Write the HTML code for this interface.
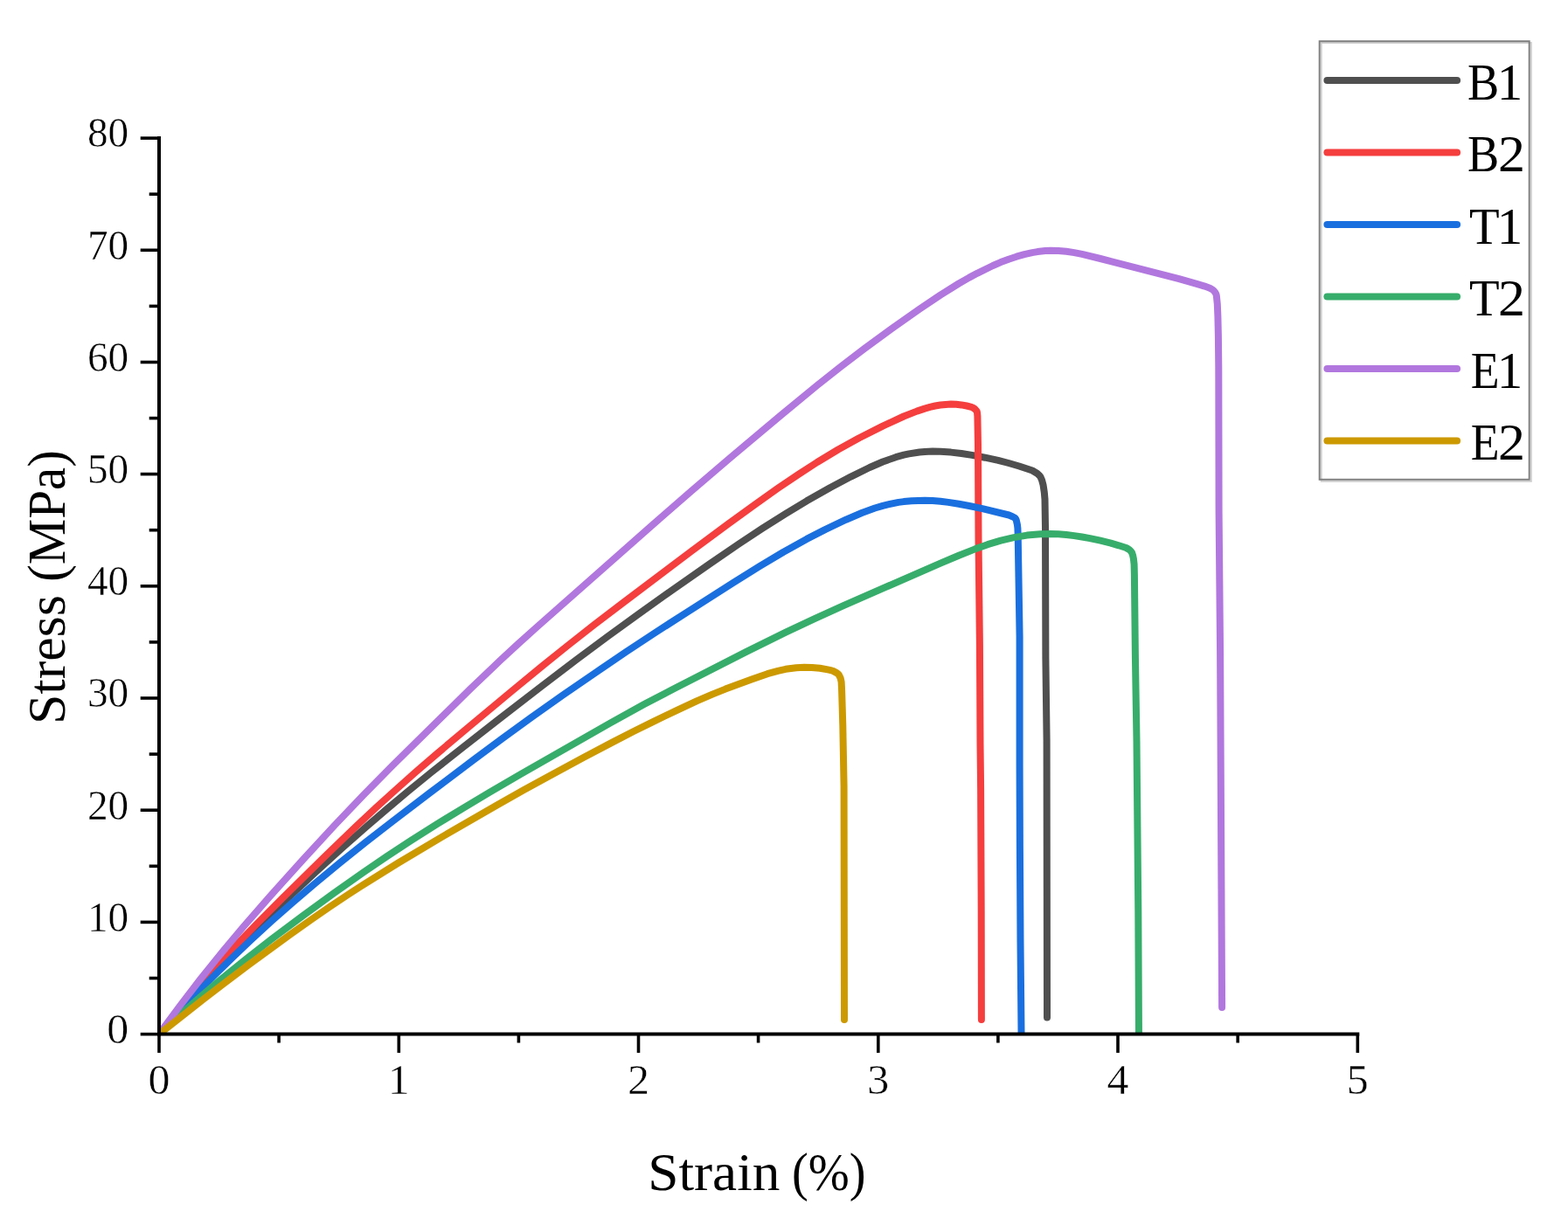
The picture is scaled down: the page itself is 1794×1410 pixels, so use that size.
<!DOCTYPE html>
<html lang="en">
<head>
<meta charset="utf-8">
<title>Stress-Strain Curves</title>
<style>
html,body{margin:0;padding:0;background:#fff;}
body{width:1794px;height:1410px;overflow:hidden;}
svg{display:block;}
text{font-family:"Liberation Serif","DejaVu Serif",serif;fill:#000;}
</style>
</head>
<body>
<svg width="1794" height="1410" viewBox="0 0 1794 1410">
<rect x="0" y="0" width="1794" height="1410" fill="#ffffff"/>
<defs><clipPath id="plot"><rect x="182" y="0" width="1500" height="1183.6"/></clipPath></defs>

<g clip-path="url(#plot)" fill="none" stroke-width="8" stroke-linecap="round" stroke-linejoin="round">
<path stroke="#4F4F4F" d="M182.0 1183.6L203.0 1159.0L227.0 1131.9L251.0 1106.0L275.0 1081.1L302.0 1054.2L329.0 1028.2L362.0 997.4L392.0 970.1L419.0 946.2L443.0 925.6L467.0 905.5L494.0 883.5L527.0 857.3L569.0 824.5L620.0 785.1L659.0 755.4L695.0 728.6L731.0 702.4L770.0 674.7L812.0 645.4L845.0 622.8L872.0 604.9L899.0 587.8L923.0 573.3L950.0 558.0L974.0 545.3L995.0 535.0L1010.0 528.5L1025.0 523.2L1034.0 520.7L1040.0 519.4L1052.0 517.5L1058.0 517.0L1067.0 516.6L1076.0 516.8L1088.0 517.6L1100.0 519.0L1112.0 520.9L1127.0 523.7L1142.0 526.9L1154.0 530.0L1166.0 533.5L1181.1 538.5L1186.5 541.7L1189.5 544.5L1190.5 545.9L1192.0 549.3L1193.6 555.3L1194.8 563.4L1195.5 571.4L1196.0 603.4L1196.4 753.4L1197.6 847.4L1198.0 1164.5"/>
<path stroke="#F53E3E" d="M182.0 1183.6L203.0 1157.6L224.0 1132.7L245.0 1108.9L269.0 1083.0L293.0 1058.2L323.0 1028.1L371.0 980.9L407.0 946.2L431.0 923.7L452.0 904.6L476.0 883.3L500.0 862.6L536.0 832.2L584.0 792.2L620.0 762.6L650.0 738.5L680.0 714.9L713.0 689.7L791.0 630.9L833.0 599.7L863.0 577.9L890.0 558.8L914.0 542.6L935.0 529.0L959.0 514.5L983.0 501.2L1010.0 487.6L1034.0 476.5L1049.0 470.6L1058.0 467.6L1064.0 465.9L1070.0 464.5L1076.0 463.5L1082.0 462.9L1088.0 462.6L1094.0 462.8L1100.0 463.4L1106.0 464.5L1111.4 465.8L1113.2 466.6L1115.1 467.9L1116.7 469.5L1117.8 471.1L1118.1 472.8L1118.4 476.3L1119.0 508.9L1119.5 616.9L1120.9 736.9L1121.5 850.9L1122.1 902.9L1122.7 1042.9L1122.9 1167.0"/>
<path stroke="#1A6FDF" d="M182.0 1183.6L203.0 1160.4L224.0 1138.0L245.0 1116.5L266.0 1095.8L287.0 1075.9L311.0 1053.9L335.0 1032.7L362.0 1009.7L389.0 987.4L419.0 963.4L449.0 940.1L491.0 908.0L542.0 869.5L575.0 845.0L608.0 821.0L644.0 795.6L683.0 768.7L716.0 746.3L749.0 724.5L785.0 701.3L839.0 666.9L869.0 648.2L896.0 632.0L923.0 616.9L944.0 606.1L968.0 594.7L986.0 587.0L1001.0 581.5L1010.0 578.8L1016.0 577.3L1028.0 574.9L1034.0 574.1L1043.0 573.2L1058.0 572.8L1067.0 573.1L1076.0 573.8L1085.0 574.9L1097.0 576.8L1109.0 579.0L1124.0 582.2L1154.3 589.5L1158.4 591.2L1160.3 592.2L1161.8 593.4L1162.5 594.7L1163.0 596.3L1163.9 600.3L1164.4 604.6L1164.7 612.7L1166.6 728.7L1166.6 876.7L1166.9 968.7L1167.5 1076.7L1168.6 1190.0"/>
<path stroke="#37AD6B" d="M182.0 1183.6L206.0 1161.4L230.0 1140.2L254.0 1119.9L281.0 1098.0L311.0 1074.7L347.0 1047.7L383.0 1021.5L416.0 998.3L443.0 979.9L470.0 962.2L500.0 943.2L530.0 924.8L560.0 906.9L596.0 885.9L698.0 827.6L737.0 806.1L773.0 787.2L854.0 745.9L899.0 723.7L932.0 708.1L965.0 693.1L1076.0 644.6L1097.0 635.7L1115.0 628.6L1130.0 623.2L1145.0 618.7L1160.0 615.1L1175.0 612.6L1190.0 611.2L1202.0 611.0L1211.0 611.3L1220.0 612.0L1229.0 613.1L1238.0 614.5L1247.0 616.1L1259.0 618.7L1271.0 621.7L1280.0 624.3L1288.6 627.0L1292.1 629.2L1293.7 630.7L1294.9 632.2L1296.1 635.6L1296.9 639.5L1297.6 645.8L1297.9 657.8L1298.9 749.8L1300.5 847.8L1302.3 1043.8L1303.0 1190.0"/>
<path stroke="#B177DE" d="M182.0 1183.6L206.0 1151.0L230.0 1119.7L254.0 1089.9L278.0 1061.2L308.0 1026.8L347.0 983.5L383.0 944.4L416.0 909.8L449.0 876.3L494.0 831.8L539.0 787.7L572.0 756.2L593.0 736.8L614.0 717.9L746.0 601.2L791.0 562.0L836.0 523.5L893.0 475.6L935.0 441.0L962.0 419.6L989.0 399.0L1019.0 377.1L1052.0 353.8L1076.0 337.6L1097.0 324.5L1109.0 317.6L1118.0 312.8L1136.0 304.0L1145.0 300.1L1154.0 296.7L1163.0 293.7L1172.0 291.1L1181.0 289.1L1187.0 288.1L1196.0 287.1L1202.0 286.8L1211.0 287.0L1220.0 287.8L1229.0 289.1L1238.0 290.9L1259.0 296.0L1349.0 319.1L1370.0 325.1L1378.3 327.6L1384.2 329.7L1387.5 331.6L1388.9 332.9L1390.2 334.5L1391.3 336.4L1391.8 338.2L1392.8 348.1L1393.4 362.2L1393.9 384.2L1394.3 420.2L1394.6 584.2L1396.1 748.2L1398.1 1153.0"/>
<path stroke="#CC9900" d="M182.0 1183.6L233.0 1143.3L284.0 1104.5L332.0 1069.4L356.0 1052.5L377.0 1038.0L398.0 1024.0L416.0 1012.3L455.0 988.0L506.0 957.6L569.0 921.2L599.0 904.3L632.0 886.2L668.0 866.8L701.0 849.4L725.0 837.0L746.0 826.6L773.0 813.6L797.0 802.4L815.0 794.6L830.0 788.6L860.0 777.5L878.0 771.2L890.0 767.8L899.0 765.8L911.0 764.2L920.0 763.7L929.0 763.9L938.0 764.8L947.0 766.4L951.6 767.4L953.5 768.1L957.3 770.1L958.9 771.4L960.0 772.7L961.7 776.3L962.6 780.3L963.1 790.3L964.3 830.3L965.6 900.3L966.0 1167.0"/>
</g>
<g stroke="#000" stroke-width="4" fill="none">
<path d="M182.0 156.1 V1185.6"/>
<path d="M180.0 1183.6 H1555.3"/>
<path stroke-width="3.6" d="M160.7 1183.6 H182.0"/>
<path stroke-width="3.6" d="M170.7 1119.5 H182.0"/>
<path stroke-width="3.6" d="M160.7 1055.4 H182.0"/>
<path stroke-width="3.6" d="M170.7 991.3 H182.0"/>
<path stroke-width="3.6" d="M160.7 927.2 H182.0"/>
<path stroke-width="3.6" d="M170.7 863.1 H182.0"/>
<path stroke-width="3.6" d="M160.7 799.0 H182.0"/>
<path stroke-width="3.6" d="M170.7 734.9 H182.0"/>
<path stroke-width="3.6" d="M160.7 670.8 H182.0"/>
<path stroke-width="3.6" d="M170.7 606.7 H182.0"/>
<path stroke-width="3.6" d="M160.7 542.6 H182.0"/>
<path stroke-width="3.6" d="M170.7 478.6 H182.0"/>
<path stroke-width="3.6" d="M160.7 414.5 H182.0"/>
<path stroke-width="3.6" d="M170.7 350.4 H182.0"/>
<path stroke-width="3.6" d="M160.7 286.3 H182.0"/>
<path stroke-width="3.6" d="M170.7 222.2 H182.0"/>
<path stroke-width="3.6" d="M160.7 158.1 H182.0"/>
<path stroke-width="3.6" d="M182.0 1183.6 V1204.9"/>
<path stroke-width="3.6" d="M319.1 1183.6 V1193.5"/>
<path stroke-width="3.6" d="M456.3 1183.6 V1204.9"/>
<path stroke-width="3.6" d="M593.4 1183.6 V1193.5"/>
<path stroke-width="3.6" d="M730.5 1183.6 V1204.9"/>
<path stroke-width="3.6" d="M867.6 1183.6 V1193.5"/>
<path stroke-width="3.6" d="M1004.8 1183.6 V1204.9"/>
<path stroke-width="3.6" d="M1141.9 1183.6 V1193.5"/>
<path stroke-width="3.6" d="M1279.0 1183.6 V1204.9"/>
<path stroke-width="3.6" d="M1416.2 1183.6 V1193.5"/>
<path stroke-width="3.6" d="M1553.3 1183.6 V1204.9"/>
</g>
<g font-size="48.5" stroke="#fff" stroke-width="0.45">
<text x="147.2" y="1193.9" text-anchor="end" textLength="25.0" lengthAdjust="spacingAndGlyphs">0</text>
<text x="147.2" y="1065.7" text-anchor="end" textLength="47.3" lengthAdjust="spacingAndGlyphs">10</text>
<text x="147.2" y="937.5" text-anchor="end" textLength="47.3" lengthAdjust="spacingAndGlyphs">20</text>
<text x="147.2" y="809.3" text-anchor="end" textLength="47.3" lengthAdjust="spacingAndGlyphs">30</text>
<text x="147.2" y="681.1" text-anchor="end" textLength="47.3" lengthAdjust="spacingAndGlyphs">40</text>
<text x="147.2" y="552.9" text-anchor="end" textLength="47.3" lengthAdjust="spacingAndGlyphs">50</text>
<text x="147.2" y="424.8" text-anchor="end" textLength="47.3" lengthAdjust="spacingAndGlyphs">60</text>
<text x="147.2" y="296.6" text-anchor="end" textLength="47.3" lengthAdjust="spacingAndGlyphs">70</text>
<text x="147.2" y="168.4" text-anchor="end" textLength="47.3" lengthAdjust="spacingAndGlyphs">80</text>
<text x="182.0" y="1251.7" text-anchor="middle" textLength="25" lengthAdjust="spacingAndGlyphs">0</text>
<text x="456.3" y="1251.7" text-anchor="middle" textLength="25" lengthAdjust="spacingAndGlyphs">1</text>
<text x="730.5" y="1251.7" text-anchor="middle" textLength="25" lengthAdjust="spacingAndGlyphs">2</text>
<text x="1004.8" y="1251.7" text-anchor="middle" textLength="25" lengthAdjust="spacingAndGlyphs">3</text>
<text x="1279.0" y="1251.7" text-anchor="middle" textLength="25" lengthAdjust="spacingAndGlyphs">4</text>
<text x="1553.3" y="1251.7" text-anchor="middle" textLength="25" lengthAdjust="spacingAndGlyphs">5</text>
</g>
<text y="1362.4" font-size="61"><tspan x="741.3" textLength="151.1" lengthAdjust="spacingAndGlyphs">Strain</tspan> <tspan x="906.0" textLength="84.6" lengthAdjust="spacingAndGlyphs">(%)</tspan></text>
<text transform="translate(73.8,824.8) rotate(-90)" y="0" font-size="61"><tspan x="-4.2" textLength="148.0" lengthAdjust="spacingAndGlyphs">Stress</tspan> <tspan x="159.0" textLength="150.7" lengthAdjust="spacingAndGlyphs">(MPa)</tspan></text>
<rect x="1511.7" y="49.0" width="240.1" height="501.8" fill="#fff" stroke="#cfcfcf" stroke-width="2"/>
<rect x="1509.7" y="47.2" width="240.0" height="501.6" fill="none" stroke="#808080" stroke-width="2"/>
<g stroke-width="8.2" stroke-linecap="round" fill="none">
<path stroke="#4F4F4F" d="M1518.5 92.0 H1667"/>
<path stroke="#F53E3E" d="M1518.5 174.5 H1667"/>
<path stroke="#1A6FDF" d="M1518.5 257.0 H1667"/>
<path stroke="#37AD6B" d="M1518.5 339.5 H1667"/>
<path stroke="#B177DE" d="M1518.5 422.0 H1667"/>
<path stroke="#CC9900" d="M1518.5 504.5 H1667"/>
</g>
<g font-size="59">
<text y="113.5"><tspan x="1679.0" textLength="36.2" lengthAdjust="spacingAndGlyphs">B</tspan><tspan x="1712.8" textLength="29.5" lengthAdjust="spacingAndGlyphs">1</tspan></text>
<text y="196.0"><tspan x="1679.0" textLength="36.2" lengthAdjust="spacingAndGlyphs">B</tspan><tspan x="1714.1" textLength="31.0" lengthAdjust="spacingAndGlyphs">2</tspan></text>
<text y="278.5"><tspan x="1680.9" textLength="34.6" lengthAdjust="spacingAndGlyphs">T</tspan><tspan x="1712.8" textLength="29.5" lengthAdjust="spacingAndGlyphs">1</tspan></text>
<text y="361.0"><tspan x="1680.9" textLength="34.6" lengthAdjust="spacingAndGlyphs">T</tspan><tspan x="1714.1" textLength="31.0" lengthAdjust="spacingAndGlyphs">2</tspan></text>
<text y="443.5"><tspan x="1682.7" textLength="32.8" lengthAdjust="spacingAndGlyphs">E</tspan><tspan x="1712.8" textLength="29.5" lengthAdjust="spacingAndGlyphs">1</tspan></text>
<text y="526.0"><tspan x="1682.7" textLength="32.8" lengthAdjust="spacingAndGlyphs">E</tspan><tspan x="1714.1" textLength="31.0" lengthAdjust="spacingAndGlyphs">2</tspan></text>
</g>
</svg>
</body>
</html>
